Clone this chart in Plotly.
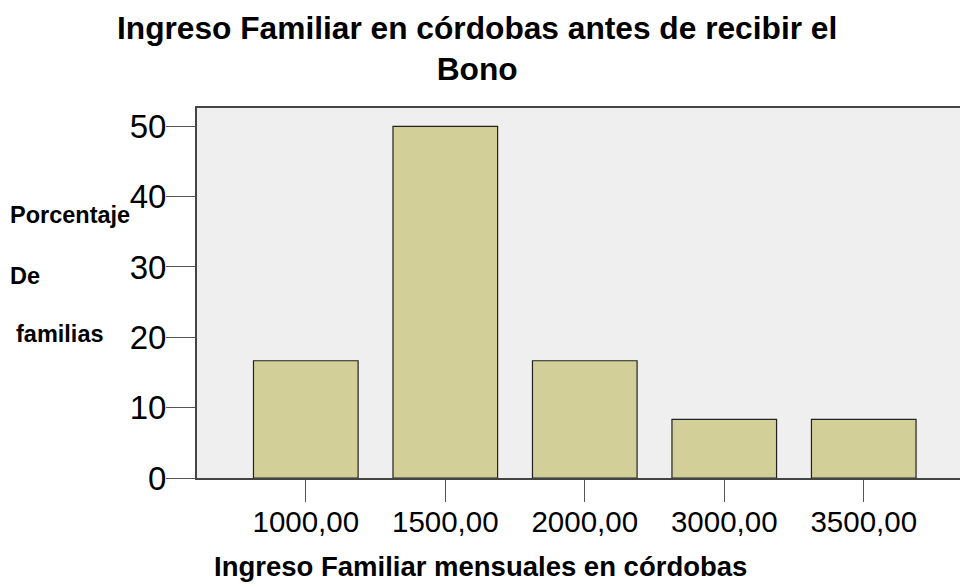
import plotly.graph_objects as go

categorias = ["1000,00", "1500,00", "2000,00", "3000,00", "3500,00"]
porcentajes = [16.67, 50.0, 16.67, 8.33, 8.33]
y_ticks = [0, 10, 20, 30, 40, 50]

titulo = "Ingreso Familiar en córdobas antes de recibir el<br>Bono"
titulo_x = "Ingreso Familiar mensuales en córdobas"
etiquetas_y = ["Porcentaje", "De", "familias"]

fig = go.Figure()
fig.add_trace(go.Bar(
    x=categorias, y=porcentajes, width=0.75,
    marker=dict(color="#d3cf98", line=dict(color="#222222", width=1.2)),
))

fig.update_layout(
    width=960, height=587,
    margin=dict(l=197, r=0, t=108, b=109),
    paper_bgcolor="white", plot_bgcolor="#efefef",
    showlegend=False,
    font=dict(family="Liberation Sans, Arial, sans-serif", color="black"),
)
fig.update_xaxes(
    type="category", range=[-0.78, 4.69],
    showline=True, linecolor="#444444", linewidth=2, mirror=True,
    ticks="outside", ticklen=22, tickcolor="#555555", tickwidth=1,
    tickfont=dict(size=29.5), ticklabelstandoff=-5,
    showgrid=False, zeroline=False,
)
fig.update_yaxes(
    range=[0, 52.6], tickvals=y_ticks,
    showline=True, linecolor="#444444", linewidth=2,
    ticks="outside", ticklen=29, tickcolor="#555555", tickwidth=1,
    tickfont=dict(size=33), ticklabelstandoff=-7,
    showgrid=False, zeroline=False,
)

fig.add_annotation(text="<b>" + titulo + "</b>", xref="paper", yref="paper", x=0.367, y=1.162,
                   showarrow=False, xanchor="center", yanchor="middle",
                   font=dict(size=31.7), align="center")
fig.add_annotation(text="<b>" + titulo_x + "</b>", xref="paper", yref="paper",
                   x=0.372, y=-0.2405, showarrow=False, xanchor="center", yanchor="middle",
                   font=dict(size=27.5))
for txt, xp, yp in zip(etiquetas_y, [-0.2478, -0.2478, -0.2400], [0.711, 0.546, 0.389]):
    fig.add_annotation(text="<b>" + txt + "</b>", xref="paper", yref="paper",
                       x=xp, y=yp, showarrow=False, xanchor="left", yanchor="middle",
                       font=dict(size=23.5))

fig.write_html("out.html", config={"displayModeBar": False},
               post_script="document.body.style.margin='0px';")
